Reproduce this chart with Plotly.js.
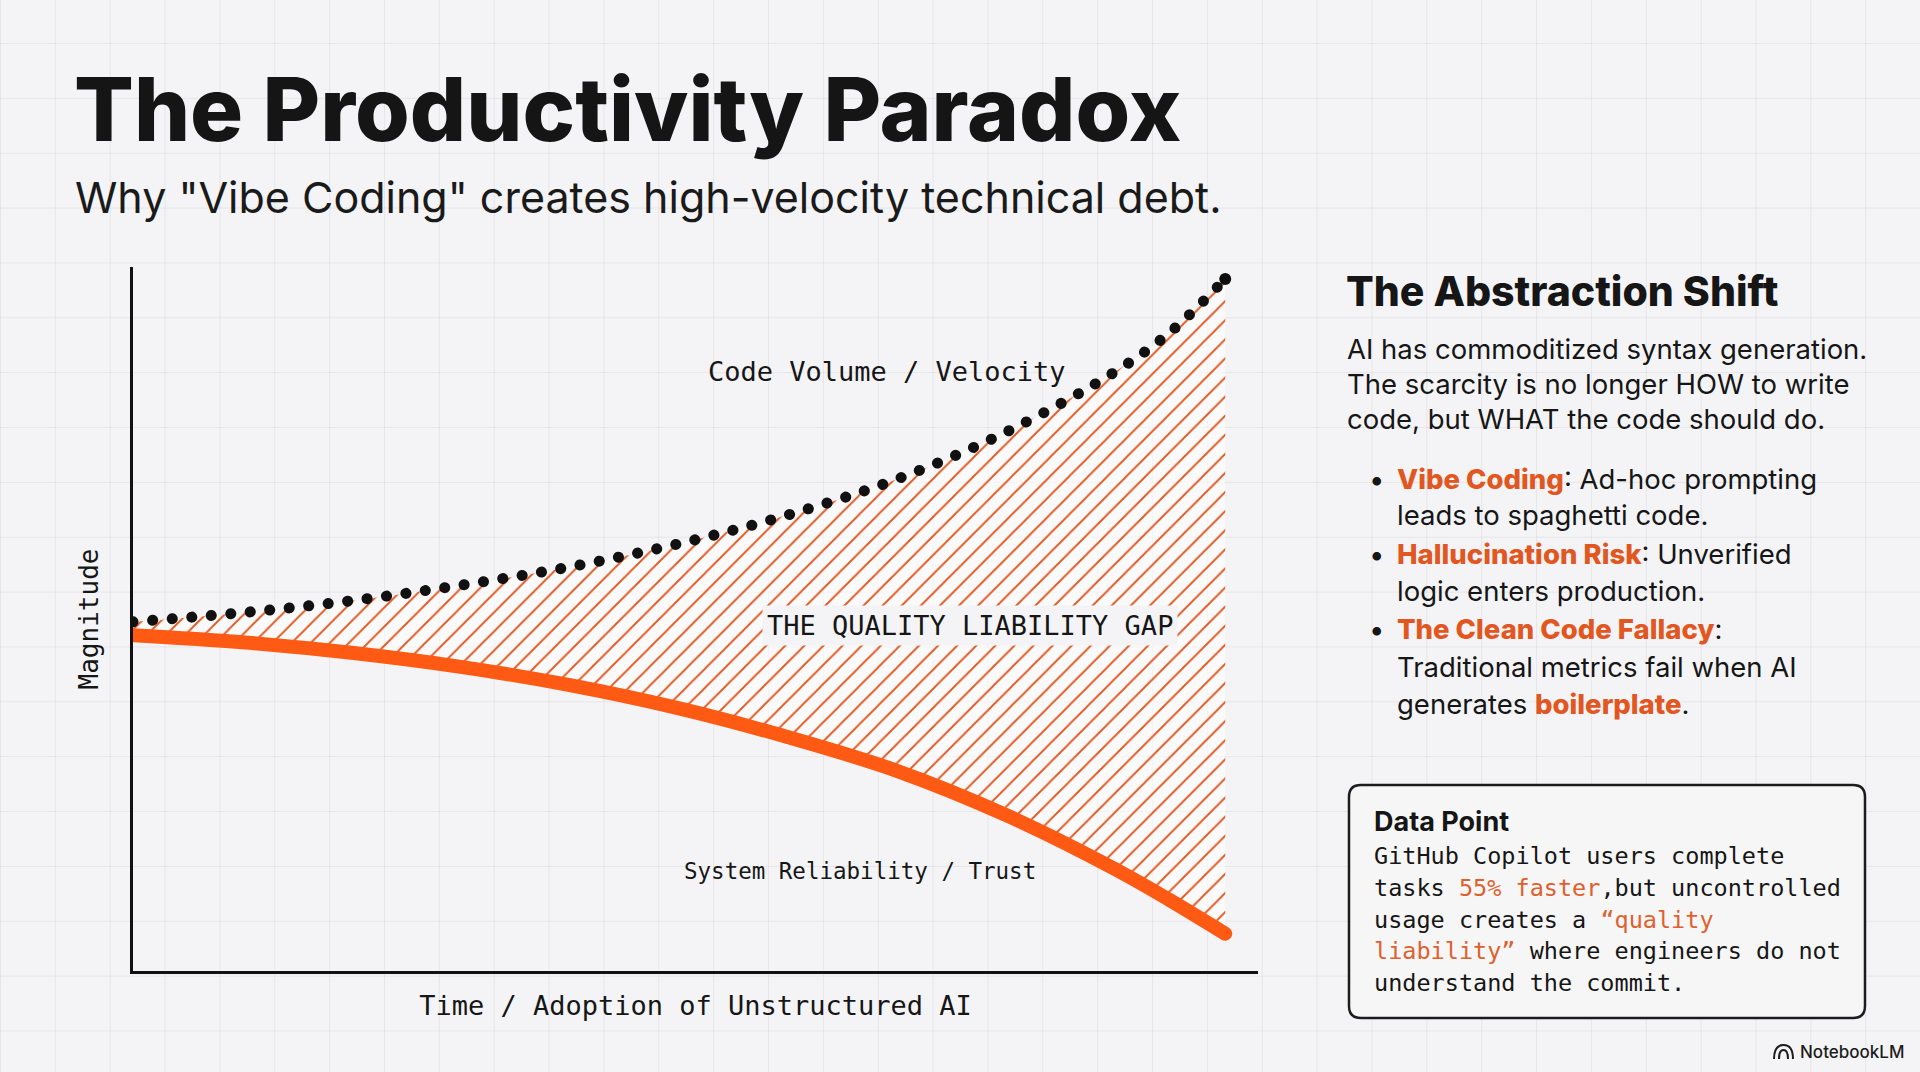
<!DOCTYPE html>
<html>
<head>
<meta charset="utf-8">
<script src="https://cdn.plot.ly/plotly-3.0.1.min.js"></script>
<style>
  html, body { margin: 0; padding: 0; }
  body {
    width: 1920px; height: 1072px; overflow: hidden;
    background-color: #f4f4f6;
    background-image:
      linear-gradient(to right, rgba(0,0,0,0.055) 1px, transparent 1px),
      linear-gradient(to bottom, rgba(0,0,0,0.055) 1px, transparent 1px);
    background-size: 54.86px 54.86px;
    background-position: 0 43px;
  }
  #chart { width: 1920px; height: 1072px; }
  .scatterlayer .js-line { stroke-linecap: round; }
</style>
</head>
<body>
<div id="chart"></div>
<script>
// ---- data ----
const time = [0, 1, 2, 3, 4, 5, 6, 7, 8, 9, 9.5, 10];
const codeVelocity = [4.96, 5.09, 5.26, 5.48, 5.74, 6.07, 6.48, 6.99, 7.66, 8.52, 9.08, 9.83];
const reliability = [4.77, 4.67, 4.52, 4.32, 4.06, 3.73, 3.32, 2.84, 2.21, 1.44, 1.00, 0.53];

const seriesNames = ['System Reliability / Trust', 'Code Volume / Velocity'];
const gapLabel = 'THE QUALITY LIABILITY GAP';
const xTitle = 'Time / Adoption of Unstructured AI';
const yTitle = 'Magnitude';
const titleText = 'The Productivity Paradox';
const subtitleText = 'Why "Vibe Coding" creates high-velocity technical debt.';
const panelHeading = 'The Abstraction Shift';
const panelLines = [
  'AI has commoditized syntax generation.',
  'The scarcity is no longer HOW to write',
  'code, but WHAT the code should do.'
];
const bullets = [
  ['Vibe Coding', ': Ad-hoc prompting', 'leads to spaghetti code.'],
  ['Hallucination Risk', ': Unverified', 'logic enters production.'],
  ['The Clean Code Fallacy', ':', 'Traditional metrics fail when AI']
];
const bulletTail = ['generates ', 'boilerplate', '.'];
const dataPointTitle = 'Data Point';

// ---- styling ----
const W = 1920, H = 1072;
const SANS = 'Inter, "Noto Sans", sans-serif';
const MONO = '"DejaVu Sans Mono", "Liberation Mono", monospace';
const INK = '#161616';
const ORANGE = '#ff5a14';
const HL = '#e2561f';

const px = x => x / W;
const py = y => 1 - y / H;
const pt = (x, y) => px(x).toFixed(5) + ',' + py(y).toFixed(5);

function ann(text, x, y, size, opts) {
  opts = opts || {};
  return Object.assign({
    text: text, xref: 'paper', yref: 'paper', x: px(x), y: py(y),
    xanchor: opts.xanchor || 'left', yanchor: 'middle', showarrow: false,
    align: 'left',
    font: { family: opts.family || SANS, size: size, color: opts.color || INK, weight: opts.weight || 400 }
  }, opts.extra || {});
}

function roundRect(x0, y0, x1, y1, r) {
  return 'M' + pt(x0 + r, y0) + ' L' + pt(x1 - r, y0) + ' Q' + pt(x1, y0) + ' ' + pt(x1, y0 + r) +
    ' L' + pt(x1, y1 - r) + ' Q' + pt(x1, y1) + ' ' + pt(x1 - r, y1) +
    ' L' + pt(x0 + r, y1) + ' Q' + pt(x0, y1) + ' ' + pt(x0, y1 - r) +
    ' L' + pt(x0, y0 + r) + ' Q' + pt(x0, y0) + ' ' + pt(x0 + r, y0) + ' Z';
}

// only the end point of the dotted series gets a closing dot
const endDotSizes = time.map((t, i) => (i === time.length - 1 ? 12 : 0));

const traces = [
  {
    x: time, y: reliability, name: seriesNames[0], type: 'scatter', mode: 'lines',
    line: { color: ORANGE, width: 14, shape: 'spline', smoothing: 1 },
    hoverinfo: 'skip'
  },
  {
    x: time, y: codeVelocity, name: seriesNames[1], type: 'scatter', mode: 'lines+markers',
    fill: 'tonexty',
    fillcolor: 'rgba(255,255,255,0.55)',
    fillpattern: { shape: '/', fgcolor: '#e05a24', bgcolor: 'rgba(255,255,255,0.55)', size: 13.5, solidity: 0.14 },
    line: { color: '#111111', width: 11, dash: '0.1px,19.5px', shape: 'spline', smoothing: 1 },
    marker: { color: '#0d0d0d', opacity: 1, size: endDotSizes, line: { color: '#0d0d0d', width: 0 } },
    hoverinfo: 'skip'
  }
];

const annotations = [
  ann(titleText, 72, 108, 88.5, { weight: 800, color: '#151515' }),
  ann(subtitleText, 73, 197, 43, { color: '#1a1a1a' }),
  // chart labels (data coordinates)
  { text: seriesNames[1], xref: 'x', yref: 'y', x: 6.9, y: 8.51, showarrow: false,
    xanchor: 'center', yanchor: 'middle', font: { family: MONO, size: 27, color: INK } },
  { text: gapLabel, xref: 'x', yref: 'y', x: 7.66, y: 4.91, showarrow: false,
    xanchor: 'center', yanchor: 'middle', bgcolor: '#f4f4f6', borderpad: 4,
    font: { family: MONO, size: 27, color: INK } },
  { text: seriesNames[0], xref: 'x', yref: 'y', x: 6.66, y: 1.42, showarrow: false,
    xanchor: 'center', yanchor: 'middle', font: { family: MONO, size: 22.5, color: INK } },
  // right panel
  ann(panelHeading, 1344, 291, 41, { weight: 800 }),
  ann(panelLines[0], 1345, 349, 27.5),
  ann(panelLines[1], 1345, 384, 27.5),
  ann(panelLines[2], 1345, 419, 27.5)
];

const bulletRows = [479, 554, 629];
const contRows = [515, 591, 667];
bullets.forEach((b, i) => {
  annotations.push(ann('•', 1376, bulletRows[i], 27.5, { xanchor: 'center' }));
  annotations.push(ann('<span style="color:' + HL + ';font-weight:800">' + b[0] + '</span>' + b[1], 1395, bulletRows[i], 27.5));
  annotations.push(ann(b[2], 1395, contRows[i], 27.5));
});
annotations.push(ann(bulletTail[0] + '<span style="color:' + HL + ';font-weight:800">' + bulletTail[1] + '</span>' + bulletTail[2], 1395, 704, 27.5));

// data point box
const DPHL = '#e0602d';
const dpLines = [
  'GitHub Copilot users complete',
  'tasks <span style="color:' + DPHL + '">55% faster</span>,but uncontrolled',
  'usage creates a <span style="color:' + DPHL + '">“quality</span>',
  '<span style="color:' + DPHL + '">liability”</span> where engineers do not',
  'understand the commit.'
];
const dpRows = [856, 888, 920, 951, 983];
annotations.push(ann(dataPointTitle, 1372, 821, 27, { weight: 700 }));
dpLines.forEach((t, i) => annotations.push(ann(t, 1372, dpRows[i], 23.5, { family: MONO })));

// brand
annotations.push(ann('NotebookLM', 1798, 1052, 17, { weight: 500, color: '#1c1c1c' }));

const shapes = [
  { type: 'path', xref: 'paper', yref: 'paper', path: roundRect(1349, 785, 1865, 1018, 12),
    fillcolor: '#f6f6f7', line: { color: '#1c1c1c', width: 2.5 }, layer: 'below' },
  { type: 'path', xref: 'paper', yref: 'paper',
    path: 'M' + pt(1774, 1059) + ' Q' + pt(1774, 1045) + ' ' + pt(1783.5, 1045) + ' Q' + pt(1793, 1045) + ' ' + pt(1793, 1059) +
          ' M' + pt(1779, 1059) + ' Q' + pt(1779, 1050) + ' ' + pt(1783.5, 1050) + ' Q' + pt(1788, 1050) + ' ' + pt(1788, 1059),
    line: { color: '#1c1c1c', width: 2 } }
];

const layout = {
  width: W, height: H,
  margin: { l: 0, r: 0, t: 0, b: 0 },
  paper_bgcolor: 'rgba(0,0,0,0)',
  plot_bgcolor: 'rgba(0,0,0,0)',
  showlegend: false,
  xaxis: {
    domain: [133 / W, 1258 / W], range: [0, 10.3],
    showline: true, linecolor: '#111111', linewidth: 3,
    showgrid: false, zeroline: false, ticks: '', showticklabels: false, fixedrange: true,
    title: { text: xTitle, font: { family: MONO, size: 27, color: INK }, standoff: 24 }
  },
  yaxis: {
    domain: [(H - 971) / H, (H - 267) / H], range: [0, 10],
    showline: true, linecolor: '#111111', linewidth: 3,
    showgrid: false, zeroline: false, ticks: '', showticklabels: false, fixedrange: true,
    title: { text: yTitle, font: { family: MONO, size: 26, color: INK }, standoff: 24 }
  },
  annotations: annotations,
  shapes: shapes
};

Plotly.newPlot('chart', traces, layout, { staticPlot: true, displayModeBar: false });
</script>
</body>
</html>
